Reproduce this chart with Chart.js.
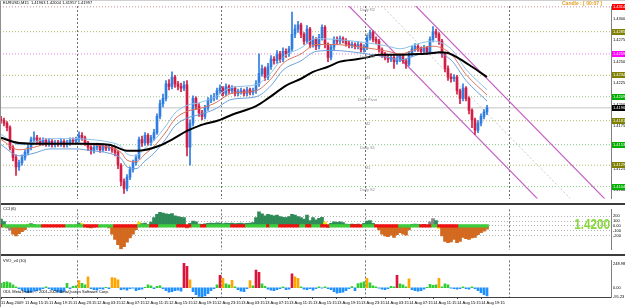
<!DOCTYPE html>
<html>
<head>
<meta charset="utf-8">
<script src="https://cdn.jsdelivr.net/npm/chart.js@4.4.0/dist/chart.umd.min.js"></script>
<style>
  body { margin: 0; background: #fff; width: 625px; height: 307px; position: relative; overflow: hidden; }
  canvas { position: absolute; left: 0; }
  .sep { position: absolute; left: 0; width: 625px; height: 2px; background: #3c3c3c; }
  .frame { position: absolute; left: 0; top: 0; width: 1px; height: 307px; background: #909090; }
  .topband { position: absolute; left: 0; top: 0; width: 625px; height: 1px; background: #cfcfcf; }
</style>
</head>
<body>
<canvas id="mainChart" width="625" height="203" style="top:0"></canvas>
<div class="sep" style="top:203px"></div>
<canvas id="cciChart" width="625" height="49" style="top:205px"></canvas>
<div class="sep" style="top:254px"></div>
<canvas id="volChart" width="625" height="51" style="top:256px"></canvas>
<div class="frame"></div>
<div class="topband"></div>
<script>
// one candle = 30 minutes, candle 0 = 11 Aug 2009 11:15
const timeLabels = ['11 Aug 2009', '11 Aug 15:15', '11 Aug 19:15', '11 Aug 23:15', '12 Aug 03:15', '12 Aug 07:15',
  '12 Aug 11:15', '12 Aug 15:15', '12 Aug 19:15', '12 Aug 23:15', '13 Aug 03:15', '13 Aug 07:15', '13 Aug 11:15',
  '13 Aug 15:15', '13 Aug 19:15', '13 Aug 23:15', '14 Aug 03:15', '14 Aug 07:15', '14 Aug 11:15', '14 Aug 15:15',
  '14 Aug 19:15'];
const labelStep = 8;
const daySeparators = [25.5, 73.5, 121.5, 169.5];

const openP = [
  1.4183, 1.4181, 1.4178, 1.4173, 1.4150, 1.4138, 1.4127, 1.4132, 1.4138, 1.4144,
  1.4150, 1.4159, 1.4161, 1.4158, 1.4155, 1.4158, 1.4154, 1.4157, 1.4153, 1.4155,
  1.4154, 1.4157, 1.4153, 1.4155, 1.4158, 1.4157, 1.4159, 1.4164, 1.4161, 1.4155,
  1.4150, 1.4146, 1.4150, 1.4152, 1.4147, 1.4151, 1.4149, 1.4150, 1.4147, 1.4144,
  1.4129, 1.4110, 1.4102, 1.4115, 1.4124, 1.4132, 1.4138, 1.4159, 1.4155, 1.4164,
  1.4155, 1.4161, 1.4167, 1.4186, 1.4201, 1.4207, 1.4224, 1.4221, 1.4232, 1.4224,
  1.4221, 1.4219, 1.4223, 1.4150, 1.4178, 1.4207, 1.4198, 1.4190, 1.4186, 1.4196,
  1.4205, 1.4207, 1.4209, 1.4216, 1.4219, 1.4213, 1.4221, 1.4216, 1.4219, 1.4213,
  1.4215, 1.4216, 1.4213, 1.4217, 1.4214, 1.4216, 1.4224, 1.4236, 1.4242, 1.4232,
  1.4244, 1.4253, 1.4251, 1.4259, 1.4253, 1.4262, 1.4259, 1.4265, 1.4282, 1.4288,
  1.4293, 1.4282, 1.4274, 1.4288, 1.4270, 1.4276, 1.4268, 1.4278, 1.4290, 1.4270,
  1.4255, 1.4267, 1.4276, 1.4274, 1.4277, 1.4275, 1.4271, 1.4269, 1.4270, 1.4268,
  1.4270, 1.4264, 1.4267, 1.4278, 1.4284, 1.4276, 1.4274, 1.4264, 1.4259, 1.4255,
  1.4253, 1.4255, 1.4250, 1.4253, 1.4256, 1.4251, 1.4247, 1.4259, 1.4265, 1.4268,
  1.4265, 1.4262, 1.4266, 1.4261, 1.4276, 1.4285, 1.4282, 1.4274, 1.4259, 1.4242,
  1.4232, 1.4230, 1.4232, 1.4216, 1.4207, 1.4219, 1.4207, 1.4193, 1.4182, 1.4170,
  1.4178, 1.4186, 1.4191];
const highP = [
  1.4186, 1.4184, 1.4180, 1.4175, 1.4152, 1.4141, 1.4135, 1.4141, 1.4147, 1.4153,
  1.4162, 1.4168, 1.4164, 1.4161, 1.4161, 1.4160, 1.4160, 1.4159, 1.4158, 1.4158,
  1.4160, 1.4159, 1.4158, 1.4161, 1.4161, 1.4162, 1.4168, 1.4167, 1.4163, 1.4157,
  1.4152, 1.4153, 1.4155, 1.4154, 1.4154, 1.4153, 1.4153, 1.4152, 1.4149, 1.4146,
  1.4131, 1.4113, 1.4118, 1.4127, 1.4135, 1.4141, 1.4162, 1.4163, 1.4167, 1.4166,
  1.4164, 1.4171, 1.4189, 1.4205, 1.4212, 1.4228, 1.4229, 1.4238, 1.4234, 1.4227,
  1.4225, 1.4227, 1.4228, 1.4182, 1.4210, 1.4209, 1.4201, 1.4193, 1.4199, 1.4208,
  1.4211, 1.4213, 1.4219, 1.4223, 1.4221, 1.4224, 1.4223, 1.4222, 1.4221, 1.4218,
  1.4219, 1.4218, 1.4220, 1.4219, 1.4219, 1.4228, 1.4259, 1.4246, 1.4244, 1.4248,
  1.4257, 1.4256, 1.4263, 1.4262, 1.4266, 1.4265, 1.4268, 1.4308, 1.4293, 1.4297,
  1.4295, 1.4284, 1.4292, 1.4290, 1.4280, 1.4278, 1.4282, 1.4293, 1.4292, 1.4272,
  1.4270, 1.4279, 1.4279, 1.4280, 1.4279, 1.4277, 1.4274, 1.4273, 1.4272, 1.4273,
  1.4272, 1.4270, 1.4281, 1.4287, 1.4286, 1.4279, 1.4276, 1.4266, 1.4261, 1.4258,
  1.4258, 1.4257, 1.4256, 1.4259, 1.4258, 1.4253, 1.4262, 1.4268, 1.4271, 1.4270,
  1.4267, 1.4269, 1.4268, 1.4279, 1.4291, 1.4288, 1.4284, 1.4276, 1.4261, 1.4245,
  1.4236, 1.4235, 1.4234, 1.4218, 1.4224, 1.4221, 1.4209, 1.4195, 1.4184, 1.4181,
  1.4189, 1.4194, 1.4199];
const lowP = [
  1.4178, 1.4175, 1.4169, 1.4147, 1.4134, 1.4117, 1.4123, 1.4129, 1.4135, 1.4141,
  1.4147, 1.4156, 1.4154, 1.4152, 1.4152, 1.4151, 1.4151, 1.4150, 1.4150, 1.4151,
  1.4151, 1.4150, 1.4150, 1.4152, 1.4154, 1.4154, 1.4156, 1.4158, 1.4152, 1.4146,
  1.4142, 1.4143, 1.4147, 1.4144, 1.4145, 1.4146, 1.4146, 1.4144, 1.4140, 1.4125,
  1.4105, 1.4096, 1.4099, 1.4112, 1.4121, 1.4129, 1.4136, 1.4151, 1.4152, 1.4152,
  1.4152, 1.4158, 1.4165, 1.4183, 1.4197, 1.4204, 1.4217, 1.4218, 1.4220, 1.4217,
  1.4215, 1.4216, 1.4140, 1.4129, 1.4175, 1.4194, 1.4186, 1.4182, 1.4183, 1.4193,
  1.4202, 1.4204, 1.4206, 1.4213, 1.4210, 1.4210, 1.4213, 1.4213, 1.4210, 1.4210,
  1.4212, 1.4210, 1.4210, 1.4211, 1.4211, 1.4213, 1.4221, 1.4233, 1.4228, 1.4229,
  1.4241, 1.4247, 1.4248, 1.4249, 1.4250, 1.4255, 1.4256, 1.4262, 1.4278, 1.4284,
  1.4278, 1.4270, 1.4271, 1.4266, 1.4267, 1.4264, 1.4265, 1.4275, 1.4266, 1.4250,
  1.4252, 1.4264, 1.4270, 1.4271, 1.4272, 1.4268, 1.4266, 1.4266, 1.4265, 1.4265,
  1.4261, 1.4261, 1.4264, 1.4275, 1.4273, 1.4271, 1.4261, 1.4255, 1.4252, 1.4249,
  1.4250, 1.4242, 1.4247, 1.4250, 1.4248, 1.4242, 1.4245, 1.4256, 1.4262, 1.4262,
  1.4259, 1.4259, 1.4258, 1.4259, 1.4273, 1.4278, 1.4270, 1.4255, 1.4238, 1.4228,
  1.4226, 1.4227, 1.4212, 1.4201, 1.4204, 1.4204, 1.4189, 1.4173, 1.4165, 1.4167,
  1.4175, 1.4183, 1.4188];
const closeP = [
  1.4181, 1.4178, 1.4173, 1.4150, 1.4138, 1.4127, 1.4132, 1.4138, 1.4144, 1.4150,
  1.4159, 1.4161, 1.4158, 1.4155, 1.4158, 1.4154, 1.4157, 1.4153, 1.4155, 1.4154,
  1.4157, 1.4153, 1.4155, 1.4158, 1.4157, 1.4159, 1.4164, 1.4161, 1.4155, 1.4150,
  1.4146, 1.4150, 1.4152, 1.4147, 1.4151, 1.4149, 1.4150, 1.4147, 1.4144, 1.4129,
  1.4110, 1.4102, 1.4115, 1.4124, 1.4132, 1.4138, 1.4159, 1.4155, 1.4164, 1.4155,
  1.4161, 1.4167, 1.4186, 1.4201, 1.4207, 1.4224, 1.4221, 1.4232, 1.4224, 1.4221,
  1.4219, 1.4223, 1.4150, 1.4178, 1.4207, 1.4198, 1.4190, 1.4186, 1.4196, 1.4205,
  1.4207, 1.4209, 1.4216, 1.4219, 1.4213, 1.4221, 1.4216, 1.4219, 1.4213, 1.4215,
  1.4216, 1.4213, 1.4217, 1.4214, 1.4216, 1.4224, 1.4236, 1.4242, 1.4232, 1.4244,
  1.4253, 1.4251, 1.4259, 1.4253, 1.4262, 1.4259, 1.4265, 1.4282, 1.4288, 1.4293,
  1.4282, 1.4274, 1.4288, 1.4270, 1.4276, 1.4268, 1.4278, 1.4290, 1.4270, 1.4255,
  1.4267, 1.4276, 1.4274, 1.4277, 1.4275, 1.4271, 1.4269, 1.4270, 1.4268, 1.4270,
  1.4264, 1.4267, 1.4278, 1.4284, 1.4276, 1.4274, 1.4264, 1.4259, 1.4255, 1.4253,
  1.4255, 1.4250, 1.4253, 1.4256, 1.4251, 1.4247, 1.4259, 1.4265, 1.4268, 1.4265,
  1.4262, 1.4266, 1.4261, 1.4276, 1.4285, 1.4282, 1.4274, 1.4259, 1.4242, 1.4232,
  1.4230, 1.4232, 1.4216, 1.4207, 1.4219, 1.4207, 1.4193, 1.4182, 1.4170, 1.4178,
  1.4186, 1.4191, 1.4196];

// slow moving average (black)
const maPos = [0, 6, 16, 27, 36, 42, 46, 53, 57, 62, 66, 73, 77, 85, 89, 95, 100, 104, 109, 113, 119, 122, 126, 133, 140, 144, 146, 149, 153, 157, 162];
const maSlow = [1.4161, 1.4155, 1.4154, 1.4154, 1.4153, 1.4146, 1.4146, 1.4152, 1.4159, 1.4169, 1.4175, 1.4182, 1.4188, 1.4198, 1.4207, 1.4222,
  1.4230, 1.4238, 1.4244, 1.4250, 1.4253, 1.4255, 1.4258, 1.4258, 1.4259, 1.4260, 1.4261, 1.4260, 1.4253, 1.4244, 1.4232];

// fast averages band
const bandPos = [0, 6, 11, 16, 25, 30, 36, 40, 42, 45, 48, 51, 55, 58, 62, 66, 71, 77, 85, 90, 94, 100, 105, 111, 120, 129, 133, 139, 144, 150, 155, 162];
const bandUpper = [1.4165, 1.4153, 1.4156, 1.4160, 1.4160, 1.4159, 1.4156, 1.4151, 1.4142, 1.4140, 1.4149, 1.4158, 1.4175, 1.4190, 1.4199, 1.4202,
  1.4208, 1.4220, 1.4223, 1.4237, 1.4255, 1.4266, 1.4277, 1.4276, 1.4273, 1.4268, 1.4265, 1.4271, 1.4274, 1.4265, 1.4241, 1.4217];
const bandMid = [1.4159, 1.4147, 1.4150, 1.4154, 1.4154, 1.4153, 1.4150, 1.4144, 1.4135, 1.4133, 1.4142, 1.4151, 1.4168, 1.4183, 1.4192, 1.4195,
  1.4201, 1.4213, 1.4216, 1.4230, 1.4248, 1.4259, 1.4270, 1.4270, 1.4267, 1.4262, 1.4259, 1.4265, 1.4268, 1.4259, 1.4235, 1.4211];
const bandLower = [1.4153, 1.4140, 1.4143, 1.4148, 1.4148, 1.4146, 1.4143, 1.4137, 1.4127, 1.4125, 1.4134, 1.4143, 1.4160, 1.4175, 1.4184, 1.4188,
  1.4194, 1.4206, 1.4209, 1.4222, 1.4240, 1.4251, 1.4262, 1.4263, 1.4260, 1.4255, 1.4252, 1.4258, 1.4261, 1.4252, 1.4228, 1.4204];

// downward channel (candle, price)
const channelLower = [[114, 1.4322], [181.3, 1.4081]];
const channelMiddle = [[125, 1.4322], [192.3, 1.4081]];
const channelUpper = [[136.3, 1.4322], [203.7, 1.4081]];

// pivot levels
const pivotLevels = [1.4314, 1.4285, 1.4259, 1.4234, 1.4209, 1.4181, 1.4153, 1.4129, 1.4104];
const pivotNames = ['Daily R2', 'M4', 'Daily R1', 'M3', 'Daily Pivot', 'M2', 'Daily S1', 'M1', 'Daily S2'];
const pivotLineColors = ['#c89090', '#b4b464', '#e080e0', '#b4b464', '#98c088', '#b4b464', '#80c880', '#b4b464', '#80c880'];
const pivotBoxColors = ['#ff0000', '#808000', '#ff00ff', '#808000', '#00b000', '#808000', '#00b000', '#808000', '#00b000'];

const priceRange = [1.4090, 1.4315];
const priceTicks = [1.4100, 1.4125, 1.4150, 1.4175, 1.4200, 1.4225, 1.4250, 1.4275, 1.4300];

// CCI (6)
const cciValues = [
  140, 90, -40, -90, -170, -210, -160, -120, -80, 40,
  50, 30, 10, -10, 5, -5, 10, -10, 5, -5,
  10, -10, 5, 15, 10, 20, 60, 50, -10, -30,
  -40, -25, -15, -20, 5, -5, -40, -170, -280, -390,
  -480, -430, -340, -250, -170, -80, 80, 50, 60, 30,
  80, 170, 240, 280, 265, 250, 240, 255, 210, 195,
  180, 170, -40, 55, 100, 85, 40, 30, 45, 55,
  60, 55, 65, 60, 50, 60, 55, 60, 50, 55,
  60, 50, 55, 60, 70, 170, 290, 250, 210, 240,
  225, 210, 225, 195, 180, 170, 195, 240, 225, 195,
  170, 140, 225, 110, 170, 125, 155, 180, 80, -30,
  55, 85, 75, 85, 70, 40, 30, 40, 30, 40,
  15, 55, 100, 110, 55, 15, -85, -170, -210, -225,
  -195, -240, -180, -140, -170, -195, -85, 30, 40, 30,
  15, 30, -15, 85, 150, 110, -55, -210, -320, -350,
  -335, -280, -350, -320, -240, -265, -280, -250, -240, -180,
  -140, -110, -70];
const cciTrend = [
  -1, 1, 1, 1, 1, 1, 1, 1, 1, 1,
  1, 1, 1, 1, -1, -1, -1, -1, -1, -1,
  -1, -1, 1, 1, 1, 1, 1, 1, -1, -1,
  -1, -1, -1, 1, 1, 1, 1, 1, -1, -1,
  -1, -1, -1, -1, -1, -1, 1, 1, 1, 1,
  -1, -1, -1, 1, 1, 1, 1, 1, 1, -1,
  -1, -1, -1, -1, 1, 1, 1, -1, -1, 1,
  1, 1, 1, 1, 1, 1, 1, -1, -1, -1,
  -1, -1, 1, 1, 1, 1, 1, 1, 1, -1,
  1, 1, 1, -1, -1, -1, -1, -1, -1, -1,
  1, 1, -1, -1, 1, 1, 1, -1, -1, -1,
  1, 1, 1, 1, 1, 1, 1, -1, -1, -1,
  -1, 1, 1, 1, 1, -1, -1, -1, -1, -1,
  -1, -1, -1, 1, 1, 1, 1, 1, 1, 1,
  -1, -1, -1, -1, 1, 1, -1, -1, -1, -1,
  -1, -1, -1, 1, 1, 1, 1, 1, 1, 1,
  1, 1, 1];
const cciYellow = [9, 27, 46, 108, 146];
const cciGray = [3, 31, 32, 143, 144];
const cciRange = [-492, 342];
const cciTicks = [-200, -100, 0, 100, 200];

// VVO_v4 (10)
const volValues = [
  45, 55, 60, 50, 30, 10, -10, -25, -40, -48,
  -45, -35, -30, -20, -10, 10, -10, -20, -30, -45,
  -50, -35, 45, -10, 15, 20, 73, 45, 30, 112,
  -10, -20, -25, -10, -15, 5, -10, 103, 100, 80,
  -20, -15, -25, -10, -5, -30, -20, -15, 5, 30,
  20, -10, 15, 20, -10, -30, -45, -40, -30, -25,
  -35, 250, 219, 82, -40, -70, -90, -95, -85, -60,
  -30, -10, 30, 128, 97, 40, 30, 75, 10, -20,
  -35, -40, -10, 72, 20, 182, 158, 40, 15, -15,
  -25, -30, -20, -10, 10, -20, -15, 143, 112, 97,
  10, -15, -20, -10, -25, -10, 8, -5, 10, -10,
  -20, -40, -55, -50, -45, -30, -10, 12, -30, 42,
  50, 61, 97, 50, 20, 10, -5, -15, -20, -10,
  15, 10, 128, 40, 30, 10, 91, -20, -30, -35,
  -30, -15, 5, 35, 25, 30, 97, 10, 40, 30,
  -5, -10, -15, -10, 10, -10, -15, 10, -10, -30,
  -50, -70, -85];
const volRange = [-95, 280];
const volTicks = [-95.23, 0, 248.98];

Chart.defaults.font.family = '"Liberation Sans", Arial, sans-serif';
Chart.defaults.font.size = 4;
Chart.defaults.color = '#000';
Chart.defaults.animation = false;
Chart.defaults.plugins.legend.display = false;
Chart.defaults.plugins.tooltip.enabled = false;

const X_MIN = -1 / 3, X_MAX = 610 / 3;
const candleIdx = closeP.map((_, i) => i);
const lastClose = closeP[closeP.length - 1];
const pts = (xs, ys) => xs.map((x, i) => ({ x: x, y: ys[i] }));
const flatLine = v => [{ x: X_MIN, y: v }, { x: X_MAX, y: v }];
const pairs = arr => arr.map(p => ({ x: p[0], y: p[1] }));

function separatorAxis() {
  return {
    type: 'linear', min: X_MIN, max: X_MAX, offset: false,
    grid: { display: true, offset: false, drawTicks: false, color: '#6e6e6e', lineWidth: 1 },
    border: { display: false, dash: [2, 2] },
    ticks: { display: false },
    afterBuildTicks: s => { s.ticks = daySeparators.map(v => ({ value: v })); },
    afterFit: s => { s.height = 0; }
  };
}
function rightAxis(range, ticks, fmt, grid) {
  return {
    position: 'right', min: range[0], max: range[1],
    grid: grid || { display: false, drawTicks: false },
    border: { display: true, color: '#808080', dash: [1, 2] },
    ticks: { padding: 2, font: { size: 4 }, color: '#000', callback: fmt },
    afterBuildTicks: s => { s.ticks = ticks.map(v => ({ value: v })); },
    afterFit: s => { s.width = 14; }
  };
}

// ---------- main price panel ----------
const bullColor = '#2f7de1', bearColor = '#d21e46';
const candleColors = candleIdx.map(i => closeP[i] >= openP[i] ? bullColor : bearColor);

const mainOverlay = {
  id: 'mainOverlay',
  afterDraw(chart) {
    const { ctx, scales: { x, y } } = chart;
    ctx.save();
    ctx.font = '4px "Liberation Sans"';
    ctx.fillStyle = '#8c8c8c';
    ctx.textAlign = 'center';
    ctx.textBaseline = 'top';
    const lx = x.getPixelForValue(daySeparators[2]) + 2;
    pivotLevels.forEach((lv, i) => ctx.fillText(pivotNames[i], lx, y.getPixelForValue(lv) + 1));

    ctx.textAlign = 'left';
    ctx.textBaseline = 'middle';
    const boxes = pivotLevels.map((lv, i) => [lv, pivotBoxColors[i]]).concat([[lastClose, '#000000']]);
    boxes.forEach(b => {
      const py = Math.round(y.getPixelForValue(b[0]));
      ctx.fillStyle = b[1];
      ctx.fillRect(612, py - 3, 13, 6);
      ctx.fillStyle = '#ffffff';
      ctx.fillText(b[0].toFixed(4), 613, py);
    });

    ctx.fillStyle = '#000';
    ctx.fillText('EURUSD,M15  1.41963 1.42004 1.41957 1.41997', 3, 3);
    ctx.fillStyle = '#e0a020';
    ctx.font = 'bold 5px "Liberation Sans"';
    ctx.fillText('Candle : [ 00:07 ]', 562, 4);
    ctx.restore();
  }
};

new Chart(document.getElementById('mainChart'), {
  type: 'bar',
  data: {
    datasets: [
      ...pivotLevels.map((lv, i) => ({
        type: 'line', data: flatLine(lv), borderColor: pivotLineColors[i], borderWidth: 1,
        borderDash: [1, 2], pointRadius: 0, order: 10
      })),
      { type: 'line', data: flatLine(lastClose), borderColor: '#c4c4c4', borderWidth: 1, pointRadius: 0, order: 9 },
      { type: 'line', data: pairs(channelMiddle), borderColor: '#c8c8c8', borderWidth: 1, borderDash: [2, 2], pointRadius: 0, order: 8 },
      { type: 'line', data: pairs(channelLower), borderColor: '#c462c4', borderWidth: 1.2, pointRadius: 0, order: 8 },
      { type: 'line', data: pairs(channelUpper), borderColor: '#c462c4', borderWidth: 1.2, pointRadius: 0, order: 8 },
      { type: 'bar', data: candleIdx.map(i => ({ x: i, y: [lowP[i], highP[i]] })), backgroundColor: candleColors,
        barThickness: 1, grouped: false, order: 4 },
      { type: 'bar', data: candleIdx.map(i => ({ x: i, y: [openP[i], closeP[i]] })), backgroundColor: candleColors,
        barThickness: 2, minBarLength: 1, grouped: false, order: 3 },
      { type: 'line', data: pts(bandPos, bandUpper), borderColor: '#8ec2ea', borderWidth: 1, pointRadius: 0, cubicInterpolationMode: 'monotone', order: 2 },
      { type: 'line', data: pts(bandPos, bandLower), borderColor: '#6d9fdc', borderWidth: 1, pointRadius: 0, cubicInterpolationMode: 'monotone', order: 2 },
      { type: 'line', data: pts(bandPos, bandMid), borderColor: '#d8735e', borderWidth: 1, pointRadius: 0, cubicInterpolationMode: 'monotone', order: 1 },
      { type: 'line', data: pts(maPos, maSlow), borderColor: '#000000', borderWidth: 2, pointRadius: 0, cubicInterpolationMode: 'monotone', order: 0 }
    ]
  },
  options: {
    responsive: false,
    devicePixelRatio: 1,
    layout: { padding: { top: 6, bottom: 1, left: 0, right: 0 } },
    scales: {
      x: separatorAxis(),
      y: rightAxis(priceRange, priceTicks, v => v.toFixed(4))
    }
  },
  plugins: [mainOverlay]
});

// ---------- CCI panel ----------
const cciColors = cciValues.map((v, i) =>
  cciYellow.includes(i) ? '#f2e200' : cciGray.includes(i) ? '#8a8a8a' : v >= 0 ? '#2e8b57' : '#d2691e');

const cciOverlay = {
  id: 'cciOverlay',
  afterDraw(chart) {
    const ctx = chart.ctx;
    ctx.save();
    ctx.font = '4px "Liberation Sans"';
    ctx.fillStyle = '#000';
    ctx.textBaseline = 'middle';
    ctx.fillText('CCI (6)', 3, 4);
    ctx.font = 'bold 15px "Liberation Sans"';
    ctx.fillStyle = '#86d83a';
    ctx.textAlign = 'right';
    ctx.translate(610, 20);
    ctx.scale(0.78, 1);
    ctx.fillText('1.4200', 0, 0);
    ctx.restore();
  }
};

new Chart(document.getElementById('cciChart'), {
  type: 'bar',
  data: {
    datasets: [
      { data: candleIdx.map(i => ({ x: i, y: [-25, 25] })), backgroundColor: cciTrend.map(t => t > 0 ? '#3ccc3c' : '#ee1010'),
        barThickness: 3, grouped: false, order: 0 },
      { data: candleIdx.map(i => ({ x: i, y: cciValues[i] })), backgroundColor: cciColors,
        barThickness: 3, grouped: false, order: 1 }
    ]
  },
  options: {
    responsive: false,
    devicePixelRatio: 1,
    layout: { padding: 0 },
    scales: {
      x: separatorAxis(),
      y: rightAxis(cciRange, cciTicks, v => v === 0 ? '0.00' : String(v),
        { display: true, drawTicks: false, color: '#b4b4b4', lineWidth: 1 })
    }
  },
  plugins: [cciOverlay]
});

// ---------- volume oscillator panel ----------
const volColors = volValues.map(v => v >= 120 ? '#dc143c' : v >= 70 ? '#ffa500' : v > 0 ? '#32cd32' : '#1e90ff');

const volOverlay = {
  id: 'volOverlay',
  afterDraw(chart) {
    const ctx = chart.ctx;
    ctx.save();
    ctx.font = '4px "Liberation Sans"';
    ctx.fillStyle = '#000';
    ctx.textBaseline = 'middle';
    ctx.fillText('VVO_v4 (10)', 3, 5);
    ctx.fillText('ODL MetaTrader, \u00a9 2001-2009 MetaQuotes Software Corp.', 3, 36);
    ctx.restore();
  }
};

new Chart(document.getElementById('volChart'), {
  type: 'bar',
  data: {
    datasets: [
      { data: candleIdx.map(i => ({ x: i, y: volValues[i] })), backgroundColor: volColors, barThickness: 2, grouped: false }
    ]
  },
  options: {
    responsive: false,
    devicePixelRatio: 1,
    layout: { padding: 0 },
    scales: {
      x: {
        type: 'linear', min: X_MIN, max: X_MAX, offset: false,
        grid: { display: true, offset: false, drawOnChartArea: false, drawTicks: true, tickLength: 2, color: '#404040' },
        border: { display: true, color: '#404040' },
        ticks: { autoSkip: false, maxRotation: 0, minRotation: 0, align: 'start', padding: 1, font: { size: 4 }, color: '#000',
          callback: (v, i) => timeLabels[i] },
        afterBuildTicks: s => { s.ticks = timeLabels.map((_, i) => ({ value: i * labelStep })); },
        afterFit: s => { s.height = 10; }
      },
      xd: separatorAxis(),
      y: rightAxis(volRange, volTicks, v => v === 0 ? '0.00' : v.toFixed(2))
    }
  },
  plugins: [volOverlay]
});
</script>
</body>
</html>
